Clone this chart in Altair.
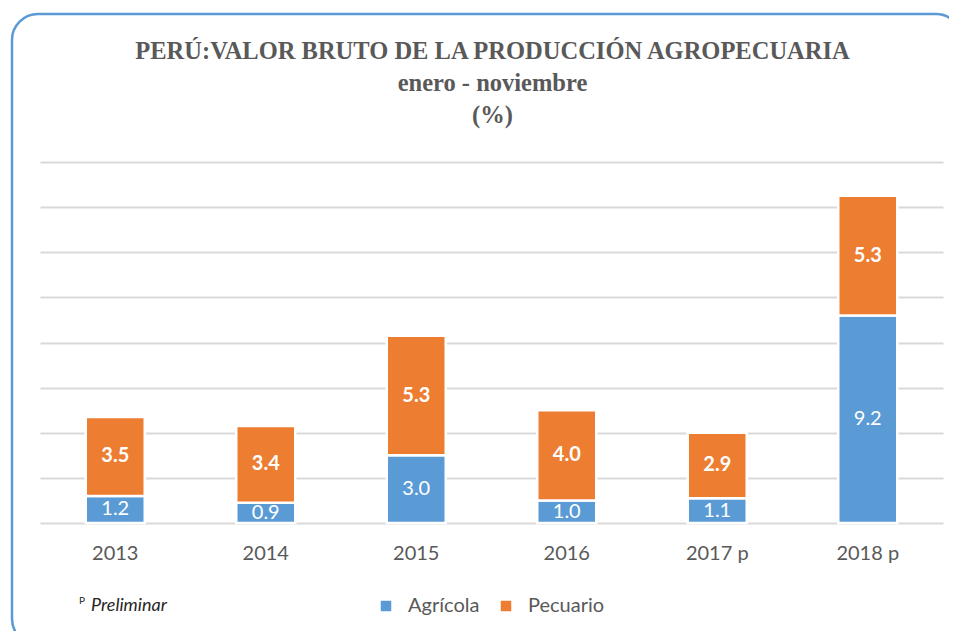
import altair as alt
import pandas as pd

years = ["2013", "2014", "2015", "2016", "2017 p", "2018 p"]
agricola = [1.2, 0.9, 3.0, 1.0, 1.1, 9.2]
pecuario = [3.5, 3.4, 5.3, 4.0, 2.9, 5.3]
series = ["Agrícola", "Pecuario"]
colors = ["#5b9bd5", "#ed7d31"]
title_lines = ["PERÚ:VALOR BRUTO DE LA PRODUCCIÓN AGROPECUARIA", "enero - noviembre", "(%)"]

rows = []
for i, y in enumerate(years):
    rows.append({"year": y, "serie": series[0], "value": agricola[i], "ord": 0})
    rows.append({"year": y, "serie": series[1], "value": pecuario[i], "ord": 1})
df = pd.DataFrame(rows)

W, H = 903, 361
FONT = "Lato"
GREY = "#595959"

x_enc = alt.X("year:N", sort=years, title=None,
              scale=alt.Scale(paddingInner=0.608, paddingOuter=0.304),
              axis=alt.Axis(labelAngle=0, labelFontSize=20, labelFont=FONT, labelColor=GREY,
                            domain=False, ticks=False, labelPadding=20))
y_scale = alt.Scale(domain=[0, 16], nice=False)

base = alt.Chart(df)

bars = base.mark_bar(stroke="white", strokeWidth=2.5).encode(
    x=x_enc,
    y=alt.Y("value:Q", stack="zero", scale=y_scale, title=None,
            axis=alt.Axis(values=list(range(0, 17, 2)), labels=False, ticks=False, domain=False,
                          grid=True, gridColor="#d9d9d9", gridWidth=2)),
    color=alt.Color("serie:N", scale=alt.Scale(domain=series, range=colors),
                    legend=alt.Legend(title=None, orient="none", legendX=336, legendY=434,
                                      direction="horizontal", symbolType="square", symbolSize=110,
                                      symbolStrokeWidth=0, labelFontSize=20, labelFont=FONT,
                                      labelColor=GREY, labelOffset=12, columnPadding=16)),
    order=alt.Order("ord:Q"),
)

stacked = base.transform_stack(
    stack="value", groupby=["year"], as_=["v0", "v1"], sort=[alt.SortField("ord")]
).transform_calculate(mid="(datum.v0 + datum.v1) / 2")

lab_agr = stacked.transform_filter(alt.datum.serie == "Agrícola").mark_text(
    color="white", fontSize=20, font=FONT, baseline="middle"
).encode(x=alt.X("year:N", sort=years), y=alt.Y("mid:Q", scale=y_scale),
         text=alt.Text("value:Q", format=".1f"))

lab_pec = stacked.transform_filter(alt.datum.serie == "Pecuario").mark_text(
    color="white", fontSize=20, font=FONT, fontWeight="bold", baseline="middle"
).encode(x=alt.X("year:N", sort=years), y=alt.Y("mid:Q", scale=y_scale),
         text=alt.Text("value:Q", format=".1f"))

title_layers = []
for t, yy in zip(title_lines, [-110, -78, -46]):
    title_layers.append(
        alt.Chart(pd.DataFrame({"t": [t]})).mark_text(
            font="Liberation Serif", fontWeight="bold", fontSize=24.5,
            color=GREY, baseline="middle", align="center"
        ).encode(x=alt.value(W / 2 + 1), y=alt.value(yy), text="t:N")
    )

note_p = alt.Chart(pd.DataFrame({"t": ["P"]})).mark_text(
    font=FONT, fontSize=10, color="#262626", align="left", baseline="middle"
).encode(x=alt.value(39), y=alt.value(439), text="t:N")
note = alt.Chart(pd.DataFrame({"t": ["Preliminar"]})).mark_text(
    font=FONT, fontSize=18, fontStyle="italic", color="#262626", align="left", baseline="middle"
).encode(x=alt.value(51), y=alt.value(444), text="t:N")

frame = alt.Chart(pd.DataFrame({"a": [0]})).mark_rect(
    fillOpacity=0, stroke="#5b9bd5", strokeWidth=2.5, cornerRadius=26
).encode(x=alt.value(-28), x2=alt.value(922), y=alt.value(-148), y2=alt.value(483))

chart = alt.layer(frame, bars, lab_agr, lab_pec, *title_layers, note_p, note).properties(
    width=W, height=H,
    autosize=alt.AutoSizeParams(type="none"),
    padding={"left": 32, "top": 154, "right": 6, "bottom": 108},
    background="white",
).configure_view(stroke=None)

chart.save("out.html", embed_options={"renderer": "svg", "actions": False})
